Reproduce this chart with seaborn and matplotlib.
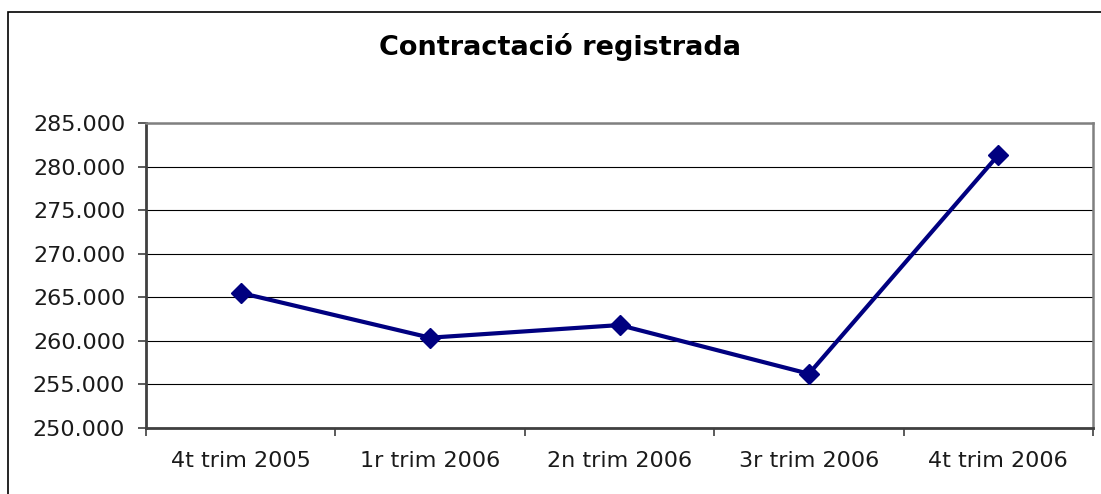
import pandas as pd
import matplotlib
matplotlib.use("Agg")
import matplotlib.pyplot as plt
import matplotlib.ticker as mticker
from matplotlib.patches import Rectangle
import seaborn as sns

# Dades
trimestres = ["4t trim 2005", "1r trim 2006", "2n trim 2006", "3r trim 2006", "4t trim 2006"]
contractes = [265500, 260350, 261800, 256200, 281350]

df = pd.DataFrame({"Trimestre": trimestres, "Contractes": contractes})

sns.set_style("white")
plt.rcParams["font.family"] = ["DejaVu Sans"]

fig = plt.figure(figsize=(11.01, 4.94), dpi=100)
ax = fig.add_axes([146 / 1101, 1 - 427.7 / 494, (1093 - 146) / 1101, (427.7 - 123.3) / 494])

sns.lineplot(data=df, x="Trimestre", y="Contractes", ax=ax, sort=False,
             color="#000080", linewidth=3, marker="D", markersize=10,
             markeredgecolor="#000080", markeredgewidth=1)

ax.set_xlim(-0.5, 4.5)
ax.set_ylim(250000, 285000)
ax.yaxis.set_major_locator(mticker.MultipleLocator(5000))
ax.yaxis.set_major_formatter(mticker.FuncFormatter(lambda v, p: f"{v:,.0f}".replace(",", ".")))
ax.grid(axis="y", color="black", linewidth=0.8)
ax.set_axisbelow(True)

# ticks entre categories
ax.set_xticks([i - 0.5 for i in range(6)], minor=True)
ax.tick_params(axis="x", which="major", length=0, pad=17, labelsize=16, colors="#1a1a1a")
ax.tick_params(axis="x", which="minor", length=6, width=1.2, color="#404040", direction="out")
ax.tick_params(axis="y", length=6, width=1.2, color="#404040", direction="out", pad=9,
               labelsize=16, colors="#1a1a1a")
ax.tick_params(axis="x", which="minor", bottom=True)
ax.xaxis.set_ticks_position("bottom")
ax.yaxis.set_ticks_position("left")

ax.set_xlabel("")
ax.set_ylabel("")

for s in ["left", "bottom"]:
    ax.spines[s].set_color("#404040")
    ax.spines[s].set_linewidth(2)
for s in ["top", "right"]:
    ax.spines[s].set_color("#808080")
    ax.spines[s].set_linewidth(1.8)

fig.text(0.509, 0.905, "Contractació registrada", ha="center", va="center",
         fontsize=19.5, fontweight="bold", color="black")

# marc exterior del gràfic
fig.patches.append(Rectangle((7.5 / 1101, -0.2), 1.2, 1.2 - 12 / 494, transform=fig.transFigure,
                             fill=False, edgecolor="black", linewidth=1.2))

fig.savefig("out.png", dpi=100)
